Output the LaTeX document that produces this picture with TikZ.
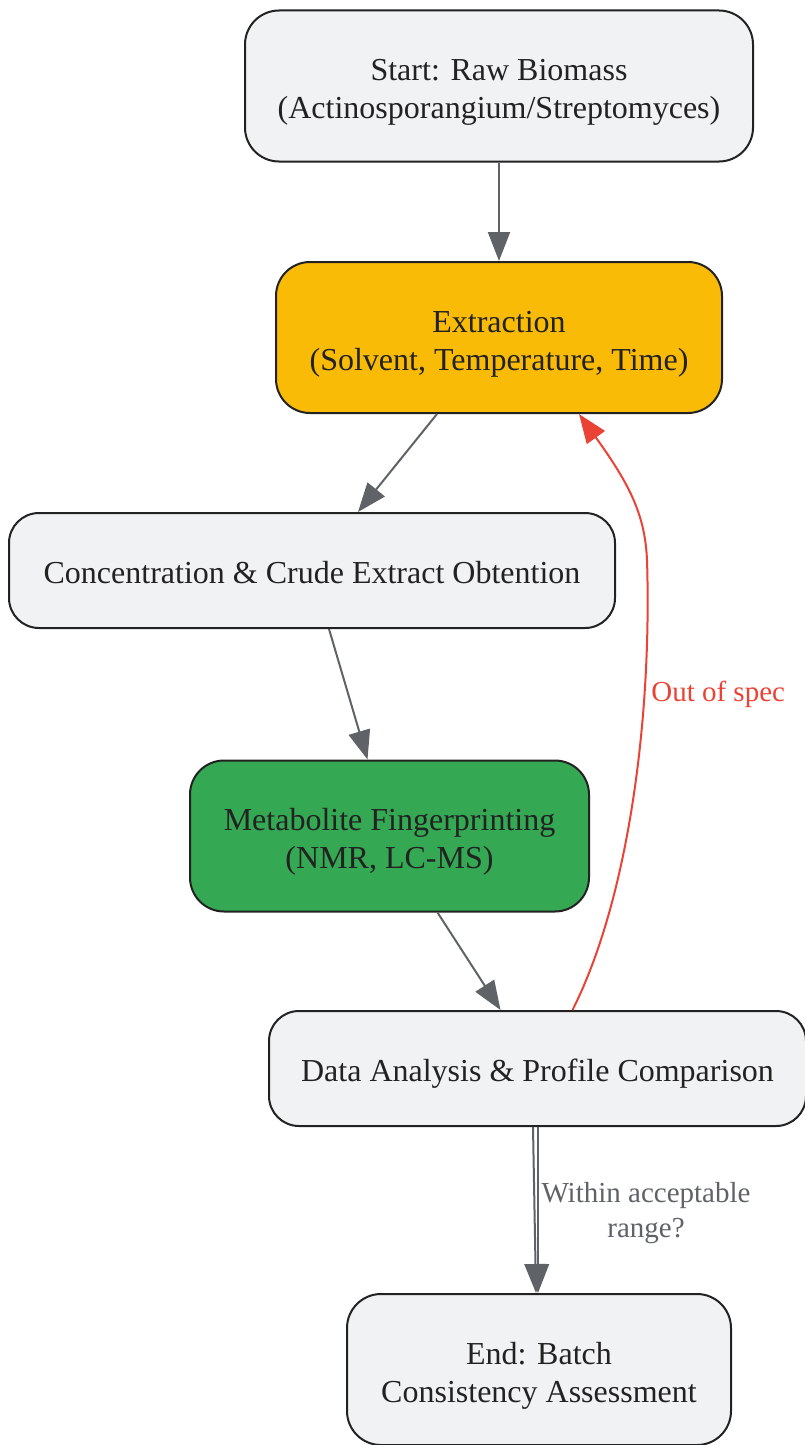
\documentclass[tikz,border=0pt]{standalone}
\usepackage{fontspec}
\setmainfont{Liberation Serif}
\usetikzlibrary{arrows.meta}

\definecolor{boxfill}{HTML}{F1F2F4}
\definecolor{boxline}{HTML}{222222}
\definecolor{gold}{HTML}{F9BB06}
\definecolor{leaf}{HTML}{34A853}
\definecolor{flow}{HTML}{5F6368}
\definecolor{alert}{HTML}{EA4335}

\tikzset{
  stepbox/.style={draw=boxline, line width=2pt, fill=boxfill, rounded corners=34pt,
    align=center, text=boxline, font=\fontsize{32}{38}\selectfont, inner sep=0pt},
  oneline/.style={stepbox, rounded corners=30pt, minimum height=115pt, text height=32pt, text depth=7pt},
  twoline/.style={stepbox, minimum height=151pt, text height=67.5pt, text depth=2pt},
  flowarrow/.style={draw=flow, line width=2pt, -{Triangle[length=29pt,width=22pt]}},
  backarrow/.style={draw=alert, line width=2pt, -{Triangle[length=29pt,width=22pt]}},
  edgelabel/.style={font=\fontsize{29}{35}\selectfont, align=center}
}

\begin{document}
\begin{tikzpicture}[x=1pt,y=-1pt]
\useasboundingbox (0,0) rectangle (804,1445);

\node[twoline, minimum width=508pt] (start) at (499,86)
  {Start: Raw Biomass\\(Actinosporangium/Streptomyces)};
\node[twoline, fill=gold, minimum width=446pt] (extract) at (499,337.5)
  {Extraction\\(Solvent, Temperature, Time)};
\node[oneline, minimum width=606pt] (concen) at (312,570.5)
  {Concentration \& Crude Extract Obtention};
\node[twoline, fill=leaf, minimum width=399pt] (finger) at (389.5,836)
  {Metabolite Fingerprinting\\(NMR, LC-MS)};
\node[oneline, minimum width=537pt] (analysis) at (537.5,1068.5)
  {Data Analysis \& Profile Comparison};
\node[twoline, minimum width=384pt] (finish) at (539,1369.5)
  {End: Batch\\Consistency Assessment};

% main flow
\draw[flowarrow] (start) -- (extract);
\draw[flowarrow] ([xshift=-62pt]extract.south) -- ([xshift=46pt]concen.north);
\draw[flowarrow] ([xshift=17pt]concen.south) -- ([xshift=-22pt]finger.north);
\draw[flowarrow] ([xshift=48pt]finger.south) -- ([xshift=-37pt]analysis.north);

% decision
\draw[flowarrow] ([xshift=-4.5pt]analysis.south) -- ([xshift=-3pt]finish.north);
\draw[flowarrow] ([xshift=0.5pt]analysis.south) -- ([xshift=-1pt]finish.north)
  node[edgelabel, text=flow, pos=0.5, anchor=center, xshift=108pt, yshift=-3pt] {Within acceptable\\range?};

% loop back
\draw[backarrow] ([xshift=35pt]analysis.north)
  .. controls (628,900) and (652,720) .. (647,560)
  .. controls (645,515) and (630,485) .. ([xshift=80pt]extract.south)
  node[pos=0.0, text=alert, font=\fontsize{29}{35}\selectfont, anchor=west, xshift=0pt, yshift=-134pt] {Out of spec};
\end{tikzpicture}
\end{document}
